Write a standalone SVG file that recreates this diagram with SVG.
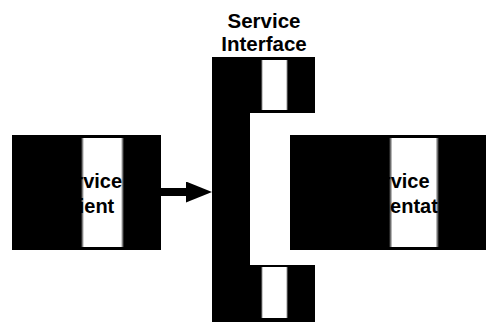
<svg xmlns="http://www.w3.org/2000/svg" width="486" height="323" viewBox="0 0 486 323">
  <style>
    .blk { fill: #000; }
    .lbl { font-family: "Liberation Sans", Arial, sans-serif; font-weight: bold; font-size: 20px; fill: #000; text-anchor: middle; }
    .hdr { font-size: 20.5px; }
    .conn { stroke: #000; stroke-width: 8; fill: none; }
  </style>
  <defs>
    <linearGradient id="band" x1="0" y1="0" x2="1" y2="0">
      <stop offset="0" stop-color="#000"/>
      <stop offset="0.07" stop-color="#fff"/>
      <stop offset="0.93" stop-color="#fff"/>
      <stop offset="1" stop-color="#000"/>
    </linearGradient>
    <marker id="arrow" markerUnits="userSpaceOnUse" markerWidth="26" markerHeight="21" viewBox="0 0 26 21" refX="0" refY="10.5" orient="auto">
      <path d="M0,0 L26,10.5 L0,21 Z" fill="#000"/>
    </marker>
  </defs>
  <rect width="486" height="323" fill="#fff"/>

  <g id="service-client">
    <rect class="blk" x="12" y="135" width="149" height="115"/>
    <rect x="81" y="138" width="43" height="109" fill="url(#band)"/>
    <text class="lbl" x="86.5" y="188">Service</text>
    <text class="lbl" x="86.5" y="213">Client</text>
  </g>

  <g id="service-interface">
    <text class="lbl hdr" x="264" y="28">Service</text>
    <text class="lbl hdr" x="264" y="51">Interface</text>
    <path class="blk" d="M212,57 H315 V113 H250 V265 H315 V322 H212 Z"/>
    <rect x="261" y="60" width="27" height="50" fill="url(#band)"/>
    <rect x="261" y="267" width="27" height="51" fill="url(#band)"/>
  </g>

  <g id="service-implementation">
    <rect class="blk" x="290" y="135" width="196" height="115"/>
    <rect x="389" y="138" width="50" height="109" fill="url(#band)"/>
    <text class="lbl" x="394" y="188">Service</text>
    <text class="lbl" x="394" y="213">Implementation</text>
  </g>

  <g id="connectors">
    <line class="conn" x1="161" y1="192" x2="186" y2="192" marker-end="url(#arrow)"/>
  </g>
</svg>
